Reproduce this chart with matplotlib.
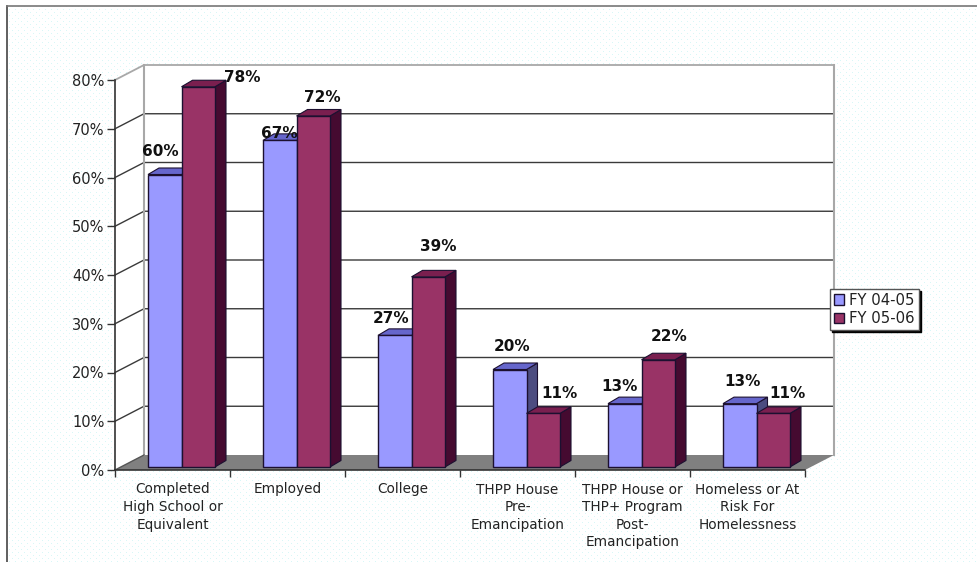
import numpy as np
import matplotlib
matplotlib.use("Agg")
import matplotlib.pyplot as plt
from matplotlib.patches import Polygon, Patch

categories = ["Completed\nHigh School or\nEquivalent", "Employed", "College",
              "THPP House\nPre-\nEmancipation",
              "THPP House or\nTHP+ Program\nPost-\nEmancipation",
              "Homeless or At\nRisk For\nHomelessness"]
fy0405 = [60, 67, 27, 20, 13, 13]
fy0506 = [78, 72, 39, 11, 22, 11]
series_names = ["FY 04-05", "FY 05-06"]
y_ticks = [0, 10, 20, 30, 40, 50, 60, 70, 80]

W, H = 977, 562
plt.rcParams['font.family'] = 'DejaVu Sans'
fig = plt.figure(figsize=(W/100, H/100), dpi=100, facecolor='white')

# dotted page background
bg = np.ones((H, W, 3))
yy, xx = np.mgrid[0:H, 0:W]
mask = (((yy % 6 == 0) & (xx % 6 == 0)) | ((yy % 6 == 3) & (xx % 6 == 3))) & (yy >= 6) & (xx >= 7)
bg[mask] = (0.85, 0.97, 0.97)
fig.figimage(bg, 0, 0, zorder=-5, origin='upper')
fig.add_artist(plt.Line2D([6.5/W, 6.5/W], [0, 1-5.5/H], color='#444444', lw=1.2))
fig.add_artist(plt.Line2D([6.5/W, 1], [1-5.5/H, 1-5.5/H], color='#777777', lw=1.2))

L, R, T, B = 115, 805, 80, 470
ax = fig.add_axes([L/W, 1-B/H, (R-L)/W, (B-T)/H], facecolor='none')
ax.set_xlim(0, 6)
ax.set_ylim(0, 80)
px = 6/(R-L)
py = 80/(B-T)

wx, wy = 29*px, 15*py          # wall depth
bx, by = 11*px, 6.5*py         # bar depth
base = 3*py                    # bars sit slightly behind the front edge
bar_w = 33.5*px
start = 33*px

# walls and floor
ax.add_patch(Polygon([(wx, wy), (6+wx, wy), (6+wx, 80+wy), (wx, 80+wy)], fc='white', ec='none', clip_on=False, zorder=1))
ax.add_patch(Polygon([(0, 0), (wx, wy), (wx, 80+wy), (0, 80)], fc='white', ec='none', clip_on=False, zorder=1))
ax.add_patch(Polygon([(0, 0), (wx, wy), (6+wx, wy), (6, 0)], fc='#808080', ec='none', clip_on=False, zorder=2))
for t in y_ticks[1:-1]:
    ax.plot([0, wx, 6+wx], [t, t+wy, t+wy], color='#3a3a3a', lw=1, clip_on=False, zorder=2)
ax.plot([0, wx, 6+wx], [80, 80+wy, 80+wy], color='#a8a8a8', lw=1.3, clip_on=False, zorder=2)
ax.plot([wx, wx], [wy, 80+wy], color='#a8a8a8', lw=1.5, clip_on=False, zorder=2)
ax.plot([6+wx, 6+wx], [wy, 80+wy], color='#a8a8a8', lw=1.5, clip_on=False, zorder=2)
ax.plot([0, wx], [0, wy], color='#555555', lw=1, clip_on=False, zorder=2)

edge = '#1c1030'
styles = [('#9999FF', '#6666CC', '#4c4c80'), ('#993366', '#7a1f4f', '#450a30')]
x = np.arange(6)
for k, (vals, (front, top, side)) in enumerate(zip((fy0405, fy0506), styles)):
    xs = x + start + k*bar_w
    z = 3 + k*2
    for xi, v in zip(xs, vals):
        yt = base + v
        ax.add_patch(Polygon([(xi+bar_w, base), (xi+bar_w+bx, base+by), (xi+bar_w+bx, yt+by), (xi+bar_w, yt)],
                             fc=side, ec=edge, lw=0.8, clip_on=False, zorder=z))
        ax.add_patch(Polygon([(xi, yt), (xi+bx, yt+by), (xi+bar_w+bx, yt+by), (xi+bar_w, yt)],
                             fc=top, ec=edge, lw=0.8, clip_on=False, zorder=z))
    ax.bar(xs, vals, width=bar_w, bottom=base, align='edge', color=front,
           edgecolor=edge, lw=1, clip_on=False, zorder=z+1)

# data labels, nudged by hand as in the original; first-series labels pass behind the second bars
nudge0 = [(-4, 23), (0, 7), (-4, 17), (2, 23), (-5, 17), (3, 22)]
nudge1 = [(44, 9), (9, 19), (10, 30), (16, 20), (11, 23), (14, 20)]
for k, (vals, nudges) in enumerate(zip((fy0405, fy0506), (nudge0, nudge1))):
    for i, (v, n) in enumerate(zip(vals, nudges)):
        ax.annotate(f"{v}%", xy=(i + start + (k+0.5)*bar_w, v + base), xytext=n,
                    textcoords='offset pixels', ha='center', va='center',
                    fontsize=11, fontweight='bold', color='#111111',
                    annotation_clip=False, zorder=4.5 if k == 0 else 10)

# axes
for s in ('top', 'right'):
    ax.spines[s].set_visible(False)
for s in ('left', 'bottom'):
    ax.spines[s].set_color('#333333')
    ax.spines[s].set_linewidth(1.2)
    ax.spines[s].set_zorder(3)
ax.set_yticks(y_ticks)
ax.set_yticklabels([f"{t}%" for t in y_ticks], fontsize=10.5, color='#222222')
ax.tick_params(axis='y', length=5.5, width=1, color='#333333', pad=2)
ax.set_xticks(np.arange(7))
ax.set_xticklabels([])
ax.tick_params(axis='x', which='major', length=5, width=1, color='#333333')
ax.set_xticks(x + 0.5, minor=True)
ax.set_xticklabels(categories, minor=True, fontsize=9.8, color='#222222', linespacing=1.33)
ax.tick_params(axis='x', which='minor', length=0, pad=9)

leg = ax.legend(handles=[Patch(fc=styles[0][0], ec=edge), Patch(fc=styles[1][0], ec=edge)],
                labels=series_names, loc='upper left',
                bbox_to_anchor=(830/W, 1-289/H), bbox_transform=fig.transFigure,
                fontsize=10.7, frameon=True, fancybox=False, framealpha=1,
                edgecolor='#555555', facecolor='white',
                shadow={'ox': 1.5, 'oy': -1.5, 'color': 'black', 'alpha': 1, 'shade': 0},
                borderaxespad=0, borderpad=0.25, handlelength=0.7, handleheight=0.7,
                handletextpad=0.35, labelspacing=0.22, labelcolor='#222222')
leg.set_zorder(20)

fig.savefig("out.png", dpi=100, facecolor=fig.get_facecolor())
